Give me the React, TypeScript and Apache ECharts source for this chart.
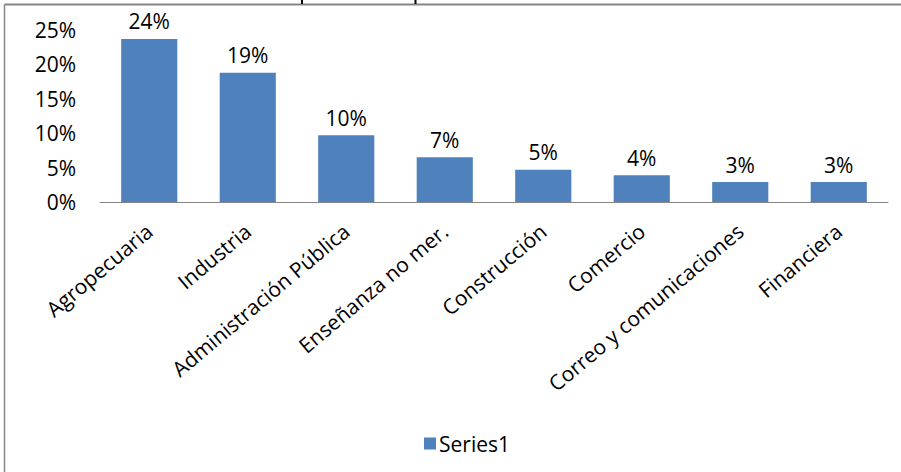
import React, { useEffect, useRef } from "react";
import * as echarts from "echarts";

const categories = [
  "Agropecuaria",
  "Industria",
  "Administración Pública",
  "Enseñanza no mer.",
  "Construcción",
  "Comercio",
  "Correo y comunicaciones",
  "Financiera",
];
const values = [0.237, 0.188, 0.097, 0.065, 0.047, 0.039, 0.029, 0.029];
const seriesName = "Series1";

const FONT = "Open Sans";

export default function App() {
  const ref = useRef<HTMLDivElement>(null);
  useEffect(() => {
    if (!ref.current) return;
    const chart = echarts.init(ref.current, undefined, { renderer: "svg" });
    chart.setOption({
      animation: false,
      backgroundColor: "#ffffff",
      textStyle: { fontFamily: FONT },
      grid: { left: 100, right: 13, top: 30, bottom: 270, containLabel: false },
      legend: {
        top: 428,
        left: 419,
        itemWidth: 12,
        itemHeight: 12,
        itemGap: 4,
        icon: "rect",
        data: [seriesName],
        textStyle: { fontFamily: FONT, fontSize: 21, color: "#000", padding: [0, 0, 0, -2] },
      },
      xAxis: {
        type: "category",
        data: categories,
        axisLine: { show: true, lineStyle: { color: "#868686", width: 1 } },
        axisTick: { show: false },
        axisLabel: {
          rotate: 40,
          interval: 0,
          margin: 26,
          fontFamily: FONT,
          fontSize: 21,
          color: "#000",
        },
      },
      yAxis: {
        type: "value",
        min: 0,
        max: 0.25,
        interval: 0.05,
        axisLine: { show: false },
        axisTick: { show: false },
        splitLine: { show: false },
        axisLabel: {
          margin: 24,
          fontFamily: FONT,
          fontSize: 21,
          color: "#000",
          formatter: (v: number) => Math.round(v * 100) + "%",
        },
      },
      series: [
        {
          name: seriesName,
          type: "bar",
          data: values,
          barCategoryGap: "43%",
          itemStyle: { color: "#4F81BD" },
          label: {
            show: true,
            position: "top",
            distance: 7,
            fontFamily: FONT,
            fontSize: 21,
            color: "#000",
            formatter: (p: any) => Math.round(p.value * 100) + "%",
          },
        },
      ],
      graphic: [
        {
          type: "line",
          shape: { x1: 4.5, y1: 4.5, x2: 901, y2: 4.5 },
          style: { stroke: "#868686", lineWidth: 2 },
        },
        {
          type: "line",
          shape: { x1: 4.5, y1: 4.5, x2: 4.5, y2: 472 },
          style: { stroke: "#868686", lineWidth: 1.5 },
        },
        {
          type: "line",
          shape: { x1: 302, y1: 0, x2: 302, y2: 4 },
          style: { stroke: "#000", lineWidth: 2 },
        },
        {
          type: "line",
          shape: { x1: 415.5, y1: 0, x2: 415.5, y2: 4 },
          style: { stroke: "#000", lineWidth: 2 },
        },
      ],
    });
    return () => chart.dispose();
  }, []);
  return (
    <div
      ref={ref}
      style={{ position: "fixed", left: 0, top: 0, width: 901, height: 472 }}
    />
  );
}
